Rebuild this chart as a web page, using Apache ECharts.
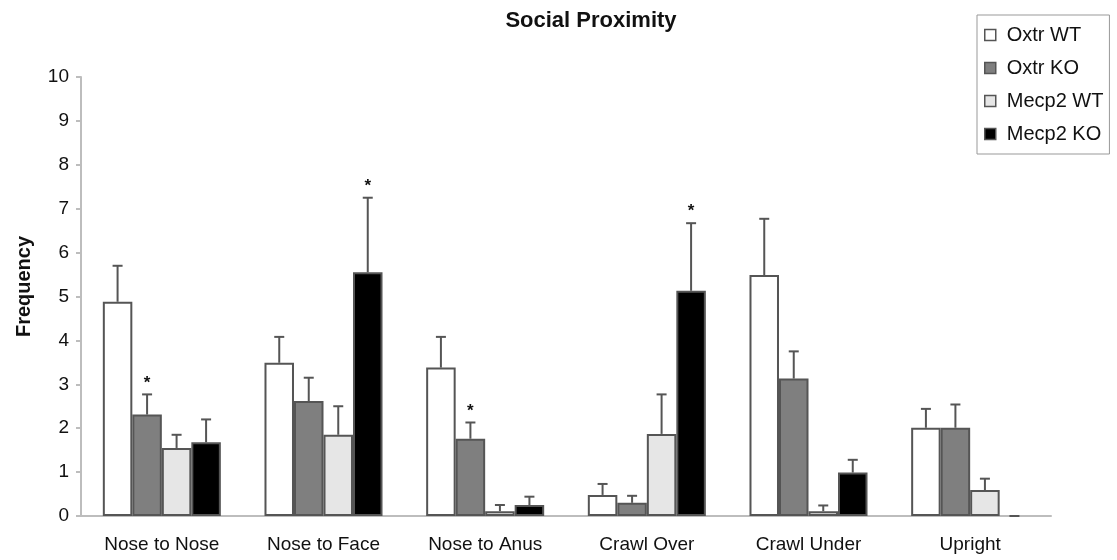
<!DOCTYPE html>
<html>
<head>
<meta charset="utf-8">
<title>Social Proximity</title>
<script src="https://cdn.jsdelivr.net/npm/echarts@6/dist/echarts.min.js"></script>
<style>
  html, body { margin: 0; padding: 0; background: #fff; }
  #chart { width: 1117px; height: 560px; }
</style>
</head>
<body>
<div id="chart"></div>
<script>
// Behaviours scored in the social proximity test
const categories = ['Nose to Nose', 'Nose to Face', 'Nose to Anus', 'Crawl Over', 'Crawl Under', 'Upright'];
const yTicks = [0, 1, 2, 3, 4, 5, 6, 7, 8, 9, 10];

// Mean frequency per group
const oxtrWT  = [4.88, 3.49, 3.38, 0.48, 5.49, 2.01];
const oxtrKO  = [2.31, 2.62, 1.76, 0.30, 3.13, 2.01];
const mecp2WT = [1.55, 1.85, 0.11, 1.87, 0.11, 0.59];
const mecp2KO = [1.68, 5.55, 0.25, 5.13, 0.99, 0];

// Standard error (upper whisker only)
const oxtrWTErr  = [0.82, 0.59, 0.70, 0.25, 1.28, 0.43];
const oxtrKOErr  = [0.46, 0.53, 0.37, 0.16, 0.62, 0.53];
const mecp2WTErr = [0.30, 0.65, 0.14, 0.90, 0.13, 0.26];
const mecp2KOErr = [0.52, 1.70, 0.19, 1.54, 0.29, 0];

// Significance markers (1 = starred)
const oxtrWTSig  = [0, 0, 0, 0, 0, 0];
const oxtrKOSig  = [1, 0, 1, 0, 0, 0];
const mecp2WTSig = [0, 0, 0, 0, 0, 0];
const mecp2KOSig = [0, 1, 0, 1, 0, 0];

const groups = [
  { name: 'Oxtr WT',  values: oxtrWT,  err: oxtrWTErr,  sig: oxtrWTSig,  color: '#ffffff' },
  { name: 'Oxtr KO',  values: oxtrKO,  err: oxtrKOErr,  sig: oxtrKOSig,  color: '#7f7f7f' },
  { name: 'Mecp2 WT', values: mecp2WT, err: mecp2WTErr, sig: mecp2WTSig, color: '#e6e6e6' },
  { name: 'Mecp2 KO', values: mecp2KO, err: mecp2KOErr, sig: mecp2KOSig, color: '#000000' }
];

const FONT = '"Liberation Sans", Arial, sans-serif';
const TEXT = '#111';
const CAT_GAP = 0.27;
const EDGE = '#555555';

const barSeries = groups.map(g => ({
  name: g.name,
  type: 'bar',
  barGap: '0%',
  barCategoryGap: (CAT_GAP * 100) + '%',
  itemStyle: { color: g.color, borderColor: EDGE, borderWidth: 2 },
  data: g.values.map(v => v === 0
    ? { value: v, itemStyle: { borderWidth: 0 } }
    : v),
  z: 2
}));

// Upper error whiskers with caps, plus significance stars
const errSeries = groups.map((g, gi) => ({
  name: g.name + ' error',
  type: 'custom',
  silent: true,
  z: 3,
  data: g.values.map((v, i) => [i, v, v + g.err[i], g.sig[i]]),
  renderItem: function (params, api) {
    const idx = api.value(0);
    const band = api.size([1, 0])[0];
    const groupW = band * (1 - CAT_GAP);
    const barW = groupW / groups.length;
    const base = api.coord([idx, api.value(1)]);
    const top = api.coord([idx, api.value(2)]);
    const x = base[0] - groupW / 2 + barW * (gi + 0.5);
    const half = 5;
    const style = { stroke: EDGE, lineWidth: 2 };
    const children = [
      { type: 'line', shape: { x1: x, y1: base[1], x2: x, y2: top[1] }, style: style },
      { type: 'line', shape: { x1: x - half, y1: top[1], x2: x + half, y2: top[1] }, style: style }
    ];
    if (api.value(3)) {
      children.push({
        type: 'text',
        style: {
          text: '*', x: x, y: top[1] - 3,
          align: 'center', verticalAlign: 'bottom',
          font: 'bold 17px ' + FONT, fill: TEXT
        }
      });
    }
    return { type: 'group', children: children };
  }
}));

const chart = echarts.init(document.getElementById('chart'), null, { renderer: 'canvas' });
chart.setOption({
  animation: false,
  backgroundColor: '#ffffff',
  title: {
    text: 'Social Proximity',
    left: 586,
    textAlign: 'center',
    top: 5,
    textStyle: { fontFamily: FONT, fontWeight: 'bold', fontSize: 22, color: TEXT }
  },
  legend: {
    orient: 'vertical',
    left: 977,
    top: 15,
    width: 133,
    padding: [9, 6, 9, 7],
    itemGap: 11,
    itemWidth: 11,
    itemHeight: 11,
    icon: 'rect',
    borderColor: '#999',
    borderWidth: 1,
    data: groups.map(g => g.name),
    itemStyle: { borderColor: EDGE, borderWidth: 1.5 },
    textStyle: { fontFamily: FONT, fontSize: 20, color: TEXT, padding: [0, 0, 0, 6], lineHeight: 22 }
  },
  grid: { left: 81, right: 66, top: 77, bottom: 44, containLabel: false, outerBoundsMode: 'none' },
  xAxis: {
    type: 'category',
    data: categories,
    axisLine: { lineStyle: { color: '#bdbdbd', width: 2 } },
    axisTick: { show: false },
    axisLabel: { fontFamily: FONT, fontSize: 19, color: TEXT, margin: 19 }
  },
  yAxis: {
    type: 'value',
    min: yTicks[0],
    max: yTicks[yTicks.length - 1],
    interval: 1,
    name: 'Frequency',
    nameLocation: 'middle',
    nameGap: 47,
    nameRotate: 90,
    nameTextStyle: { fontFamily: FONT, fontWeight: 'bold', fontSize: 20, color: TEXT, padding: [0, 0, 0, 20] },
    axisLine: { show: true, lineStyle: { color: '#bdbdbd', width: 2 } },
    axisTick: { show: true, length: 5, lineStyle: { color: '#bdbdbd', width: 2 } },
    splitLine: { show: false },
    axisLabel: { fontFamily: FONT, fontSize: 19, color: TEXT, margin: 12 }
  },
  series: barSeries.concat(errSeries)
});
</script>
</body>
</html>
